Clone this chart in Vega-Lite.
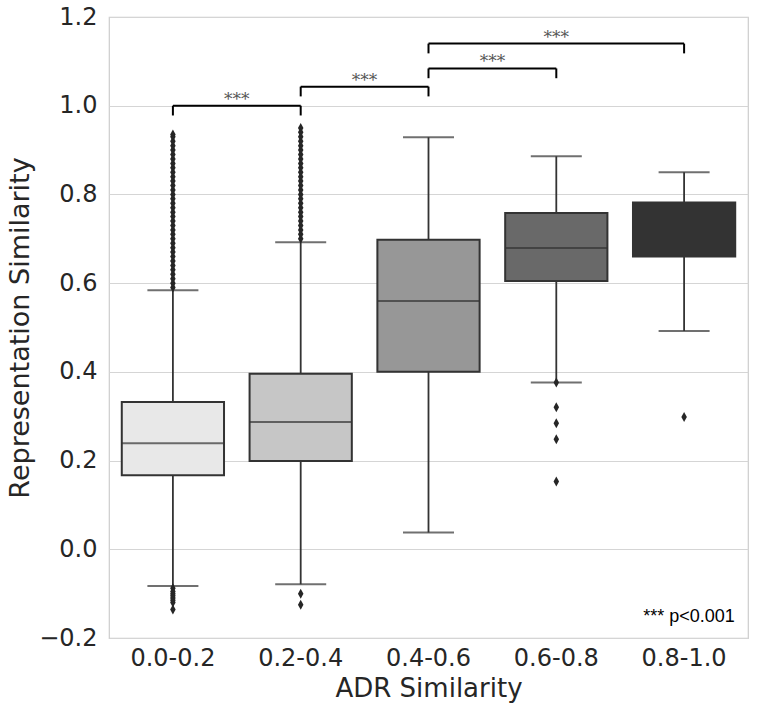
{
  "$schema": "https://vega.github.io/schema/vega-lite/v6.json",
  "width": 639,
  "height": 621,
  "autosize": {"type": "none"},
  "padding": {"left": 109, "top": 17, "right": 12, "bottom": 73},
  "background": "white",
  "config": {
    "view": {"stroke": "#cccccc", "strokeWidth": 1.2},
    "font": "DejaVu Sans"
  },
  "datasets": {
    "boxes": [
      {"cat": "0.0-0.2", "lo": -0.083, "q1": 0.167, "med": 0.239, "q3": 0.332, "hi": 0.584},
      {"cat": "0.2-0.4", "lo": -0.079, "q1": 0.199, "med": 0.287, "q3": 0.396, "hi": 0.692},
      {"cat": "0.4-0.6", "lo": 0.038, "q1": 0.400, "med": 0.560, "q3": 0.698, "hi": 0.929},
      {"cat": "0.6-0.8", "lo": 0.376, "q1": 0.605, "med": 0.679, "q3": 0.758, "hi": 0.886},
      {"cat": "0.8-1.0", "lo": 0.492, "q1": 0.660, "med": 0.726, "q3": 0.782, "hi": 0.850}
    ],
    "outliers": [
      {"cat": "0.0-0.2", "v": 0.59}, {"cat": "0.0-0.2", "v": 0.60}, {"cat": "0.0-0.2", "v": 0.61}, {"cat": "0.0-0.2", "v": 0.62},
      {"cat": "0.0-0.2", "v": 0.63}, {"cat": "0.0-0.2", "v": 0.64}, {"cat": "0.0-0.2", "v": 0.65}, {"cat": "0.0-0.2", "v": 0.66},
      {"cat": "0.0-0.2", "v": 0.67}, {"cat": "0.0-0.2", "v": 0.68}, {"cat": "0.0-0.2", "v": 0.69}, {"cat": "0.0-0.2", "v": 0.70},
      {"cat": "0.0-0.2", "v": 0.71}, {"cat": "0.0-0.2", "v": 0.72}, {"cat": "0.0-0.2", "v": 0.73}, {"cat": "0.0-0.2", "v": 0.74},
      {"cat": "0.0-0.2", "v": 0.75}, {"cat": "0.0-0.2", "v": 0.76}, {"cat": "0.0-0.2", "v": 0.77}, {"cat": "0.0-0.2", "v": 0.78},
      {"cat": "0.0-0.2", "v": 0.79}, {"cat": "0.0-0.2", "v": 0.80}, {"cat": "0.0-0.2", "v": 0.81}, {"cat": "0.0-0.2", "v": 0.82},
      {"cat": "0.0-0.2", "v": 0.83}, {"cat": "0.0-0.2", "v": 0.84}, {"cat": "0.0-0.2", "v": 0.85}, {"cat": "0.0-0.2", "v": 0.86},
      {"cat": "0.0-0.2", "v": 0.87}, {"cat": "0.0-0.2", "v": 0.88}, {"cat": "0.0-0.2", "v": 0.89}, {"cat": "0.0-0.2", "v": 0.90},
      {"cat": "0.0-0.2", "v": 0.91}, {"cat": "0.0-0.2", "v": 0.92}, {"cat": "0.0-0.2", "v": 0.93}, {"cat": "0.0-0.2", "v": 0.935},
      {"cat": "0.0-0.2", "v": -0.088}, {"cat": "0.0-0.2", "v": -0.095}, {"cat": "0.0-0.2", "v": -0.10}, {"cat": "0.0-0.2", "v": -0.105},
      {"cat": "0.0-0.2", "v": -0.11}, {"cat": "0.0-0.2", "v": -0.115}, {"cat": "0.0-0.2", "v": -0.12}, {"cat": "0.0-0.2", "v": -0.136},
      {"cat": "0.2-0.4", "v": 0.70}, {"cat": "0.2-0.4", "v": 0.71}, {"cat": "0.2-0.4", "v": 0.72}, {"cat": "0.2-0.4", "v": 0.73},
      {"cat": "0.2-0.4", "v": 0.74}, {"cat": "0.2-0.4", "v": 0.75}, {"cat": "0.2-0.4", "v": 0.76}, {"cat": "0.2-0.4", "v": 0.77},
      {"cat": "0.2-0.4", "v": 0.78}, {"cat": "0.2-0.4", "v": 0.79}, {"cat": "0.2-0.4", "v": 0.80}, {"cat": "0.2-0.4", "v": 0.81},
      {"cat": "0.2-0.4", "v": 0.82}, {"cat": "0.2-0.4", "v": 0.83}, {"cat": "0.2-0.4", "v": 0.84}, {"cat": "0.2-0.4", "v": 0.85},
      {"cat": "0.2-0.4", "v": 0.86}, {"cat": "0.2-0.4", "v": 0.87}, {"cat": "0.2-0.4", "v": 0.88}, {"cat": "0.2-0.4", "v": 0.89},
      {"cat": "0.2-0.4", "v": 0.90}, {"cat": "0.2-0.4", "v": 0.91}, {"cat": "0.2-0.4", "v": 0.92}, {"cat": "0.2-0.4", "v": 0.93},
      {"cat": "0.2-0.4", "v": 0.94}, {"cat": "0.2-0.4", "v": 0.95},
      {"cat": "0.2-0.4", "v": -0.10}, {"cat": "0.2-0.4", "v": -0.125},
      {"cat": "0.6-0.8", "v": 0.376}, {"cat": "0.6-0.8", "v": 0.320}, {"cat": "0.6-0.8", "v": 0.284}, {"cat": "0.6-0.8", "v": 0.248},
      {"cat": "0.6-0.8", "v": 0.153},
      {"cat": "0.8-1.0", "v": 0.298}
    ],
    "brackets": [
      {"a": "0.0-0.2", "b": "0.2-0.4", "y": 1.000, "yb": 0.978, "mid": "0.0-0.2", "adj": true, "label": "***"},
      {"a": "0.2-0.4", "b": "0.4-0.6", "y": 1.043, "yb": 1.021, "mid": "0.2-0.4", "adj": true, "label": "***"},
      {"a": "0.4-0.6", "b": "0.6-0.8", "y": 1.084, "yb": 1.062, "mid": "0.4-0.6", "adj": true, "label": "***"},
      {"a": "0.4-0.6", "b": "0.8-1.0", "y": 1.140, "yb": 1.118, "mid": "0.6-0.8", "adj": false, "label": "***"}
    ],
    "note": [
      {"cat": "0.8-1.0", "v": -0.153, "label": "*** p<0.001"}
    ]
  },
  "encoding": {
    "x": {
      "field": "cat",
      "type": "nominal",
      "sort": ["0.0-0.2", "0.2-0.4", "0.4-0.6", "0.6-0.8", "0.8-1.0"],
      "scale": {"domain": ["0.0-0.2", "0.2-0.4", "0.4-0.6", "0.6-0.8", "0.8-1.0"], "paddingInner": 0, "paddingOuter": 0},
      "axis": {
        "title": "ADR Similarity",
        "labelAngle": 0,
        "labelFontSize": 24,
        "labelColor": "#262626",
        "labelPadding": 8,
        "ticks": false,
        "domain": false,
        "grid": false,
        "titleFontSize": 26,
        "titleFontWeight": "normal",
        "titleColor": "#262626",
        "titlePadding": 5
      }
    }
  },
  "layer": [
    {
      "data": {"name": "boxes"},
      "mark": {"type": "rule", "stroke": "#333333", "strokeWidth": 1.8},
      "encoding": {
        "y": {
          "field": "lo",
          "type": "quantitative",
          "scale": {"domain": [-0.2, 1.2], "nice": false, "zero": false},
          "axis": {
            "title": "Representation Similarity",
            "values": [-0.2, 0, 0.2, 0.4, 0.6, 0.8, 1.0, 1.2],
            "format": ".1f",
            "labelFontSize": 24,
            "labelColor": "#262626",
            "labelPadding": 12,
            "ticks": false,
            "domain": false,
            "grid": true,
            "gridColor": "#d5d5d5",
            "gridWidth": 1.2,
            "titleFontSize": 27,
            "titleFontWeight": "normal",
            "titleColor": "#262626",
            "titlePadding": 4
          }
        },
        "y2": {"field": "hi"}
      }
    },
    {
      "data": {"name": "boxes"},
      "mark": {"type": "bar", "width": {"band": 0.8}, "stroke": "#333333", "strokeWidth": 2},
      "encoding": {
        "y": {"field": "q1", "type": "quantitative"},
        "y2": {"field": "q3"},
        "fill": {
          "field": "cat",
          "type": "nominal",
          "scale": {"domain": ["0.0-0.2", "0.2-0.4", "0.4-0.6", "0.6-0.8", "0.8-1.0"], "range": ["#e8e8e8", "#c6c6c6", "#979797", "#696969", "#333333"]},
          "legend": null
        }
      }
    },
    {
      "data": {"name": "boxes"},
      "mark": {"type": "tick", "size": 102, "thickness": 2, "color": "#333333"},
      "encoding": {"y": {"field": "med", "type": "quantitative"}}
    },
    {
      "data": {"name": "boxes"},
      "mark": {"type": "tick", "size": 51, "thickness": 2, "color": "#333333"},
      "encoding": {"y": {"field": "lo", "type": "quantitative"}}
    },
    {
      "data": {"name": "boxes"},
      "mark": {"type": "tick", "size": 51, "thickness": 2, "color": "#333333"},
      "encoding": {"y": {"field": "hi", "type": "quantitative"}}
    },
    {
      "data": {"name": "outliers"},
      "mark": {"type": "point", "shape": "M0,-1L0.55,0L0,1L-0.55,0Z", "filled": true, "size": 100, "color": "#262626", "opacity": 1},
      "encoding": {"y": {"field": "v", "type": "quantitative"}}
    },
    {
      "data": {"name": "brackets"},
      "mark": {"type": "rule", "stroke": "black", "strokeWidth": 2},
      "encoding": {
        "x": {"field": "a", "type": "nominal"},
        "x2": {"field": "b"},
        "y": {"field": "y", "type": "quantitative"}
      }
    },
    {
      "data": {"name": "brackets"},
      "mark": {"type": "rule", "stroke": "black", "strokeWidth": 2},
      "encoding": {
        "x": {"field": "a", "type": "nominal"},
        "y": {"field": "y", "type": "quantitative"},
        "y2": {"field": "yb"}
      }
    },
    {
      "data": {"name": "brackets"},
      "mark": {"type": "rule", "stroke": "black", "strokeWidth": 2},
      "encoding": {
        "x": {"field": "b", "type": "nominal"},
        "y": {"field": "y", "type": "quantitative"},
        "y2": {"field": "yb"}
      }
    },
    {
      "data": {"name": "brackets"},
      "transform": [{"filter": "datum.adj"}],
      "mark": {"type": "text", "font": "DejaVu Serif", "fontSize": 17, "color": "#555555", "baseline": "middle", "dy": -6},
      "encoding": {
        "x": {"field": "mid", "type": "nominal", "bandPosition": 1},
        "y": {"field": "y", "type": "quantitative"},
        "text": {"field": "label"}
      }
    },
    {
      "data": {"name": "brackets"},
      "transform": [{"filter": "!datum.adj"}],
      "mark": {"type": "text", "font": "DejaVu Serif", "fontSize": 17, "color": "#555555", "baseline": "middle", "dy": -6},
      "encoding": {
        "x": {"field": "mid", "type": "nominal", "bandPosition": 0.5},
        "y": {"field": "y", "type": "quantitative"},
        "text": {"field": "label"}
      }
    },
    {
      "data": {"name": "note"},
      "mark": {"type": "text", "font": "Liberation Sans", "fontSize": 18, "color": "black", "baseline": "middle", "align": "center", "dx": 5},
      "encoding": {
        "y": {"field": "v", "type": "quantitative"},
        "text": {"field": "label"}
      }
    }
  ]
}
